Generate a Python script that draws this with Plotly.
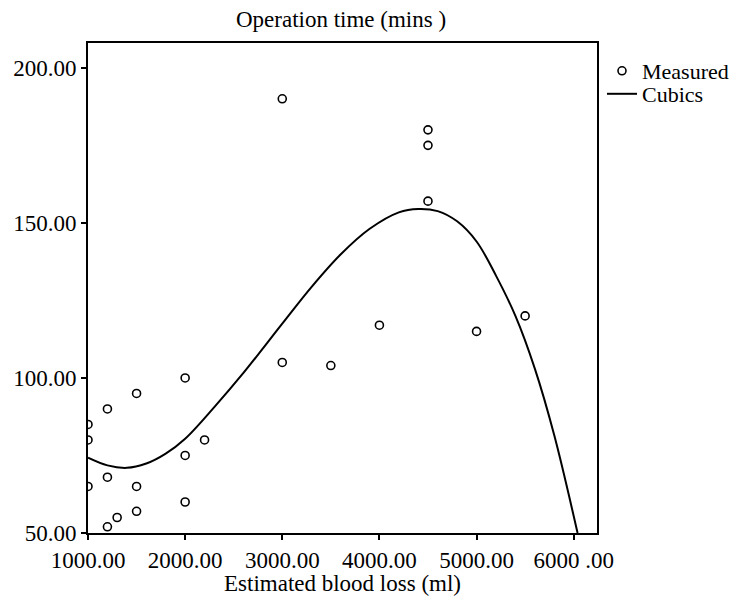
import plotly.graph_objects as go

# Measured data points (Estimated blood loss, Operation time)
blood_loss = [1000, 1000, 1000, 1200, 1200, 1200, 1300, 1500, 1500, 1500,
              2000, 2000, 2000, 2200, 3000, 3000, 3500, 4000, 4500, 4500,
              4500, 5000, 5500]
op_time = [85, 80, 65, 90, 68, 52, 55, 95, 65, 57,
           100, 75, 60, 80, 190, 105, 104, 117, 180, 175,
           157, 115, 120]

# Cubic fit curve
curve_x = [1000, 1200, 1400, 1600, 1800, 2000, 2300, 2600, 3000, 3300, 3600,
           3900, 4200, 4400, 4600, 4800, 5000, 5200, 5400, 5600, 5800, 6040]
curve_y = [74.3, 71.8, 71.0, 72.4, 75.6, 80.4, 90.6, 101.6, 117.5, 129.3, 139.8,
           148.1, 153.4, 154.5, 153.8, 150.5, 144.0, 133.0, 120.0, 103.0, 81.5, 50.0]

x_tickvals = [1000, 2000, 3000, 4000, 5000, 6000]
x_ticktext = ["1000.00", "2000.00", "3000.00", "4000.00", "5000.00", "6000 .00"]
y_tickvals = [50, 100, 150, 200]
y_ticktext = ["50.00", "100.00", "150.00", "200.00"]
x_title = "Estimated blood loss (ml)"

FONT = "Liberation Serif, Times New Roman, serif"
W, H = 732, 594          # page body has an 8px margin
ML, MR, MT, MB = 80, 143, 35, 69
PLOT_H = H - MT - MB

fig = go.Figure()
fig.add_trace(go.Scatter(
    x=blood_loss, y=op_time, mode="markers", name="Measured", legend="legend",
    marker=dict(symbol="circle-open", size=8, color="black", line=dict(width=1.6)),
))
fig.add_trace(go.Scatter(
    x=curve_x, y=curve_y, mode="lines", name="Cubics", legend="legend2",
    line=dict(color="black", width=2, shape="spline"),
))

legend_style = dict(xref="container", yref="container",
                    xanchor="left", yanchor="middle",
                    font=dict(family=FONT, size=22, color="black"),
                    bgcolor="rgba(0,0,0,0)", itemwidth=30)

fig.update_layout(
    width=W, height=H,
    margin=dict(l=ML, r=MR, t=MT, b=MB),
    paper_bgcolor="white", plot_bgcolor="white",
    font=dict(family=FONT, size=23, color="black"),
    title=dict(text="Operation time (mins )", x=0.455, xanchor="center",
               y=1 - 11 / H, yanchor="middle", yref="container",
               font=dict(family=FONT, size=23, color="black")),
    showlegend=True,
    legend=dict(x=594 / W, y=1 - 63 / H, **legend_style),
    legend2=dict(x=594 / W, y=1 - 86 / H, **legend_style),
    annotations=[dict(text=x_title, xref="paper", yref="paper",
                      x=0.5, y=-50 / PLOT_H, xanchor="center", yanchor="middle",
                      showarrow=False,
                      font=dict(family=FONT, size=23, color="black"))],
)
fig.update_xaxes(
    range=[1000, 6240], tickvals=x_tickvals, ticktext=x_ticktext,
    showgrid=False, zeroline=False, showline=True, linecolor="black", linewidth=2,
    mirror=True, ticks="outside", ticklen=5, tickcolor="black", tickwidth=1.5,
    automargin=False,
    tickfont=dict(family=FONT, size=23, color="black"),
)
fig.update_yaxes(
    range=[50, 208], tickvals=y_tickvals, ticktext=y_ticktext,
    showgrid=False, zeroline=False, showline=True, linecolor="black", linewidth=2,
    mirror=True, ticks="outside", ticklen=5, tickcolor="black", tickwidth=1.5,
    automargin=False,
    tickfont=dict(family=FONT, size=23, color="black"),
)

fig.write_html("out.html")
